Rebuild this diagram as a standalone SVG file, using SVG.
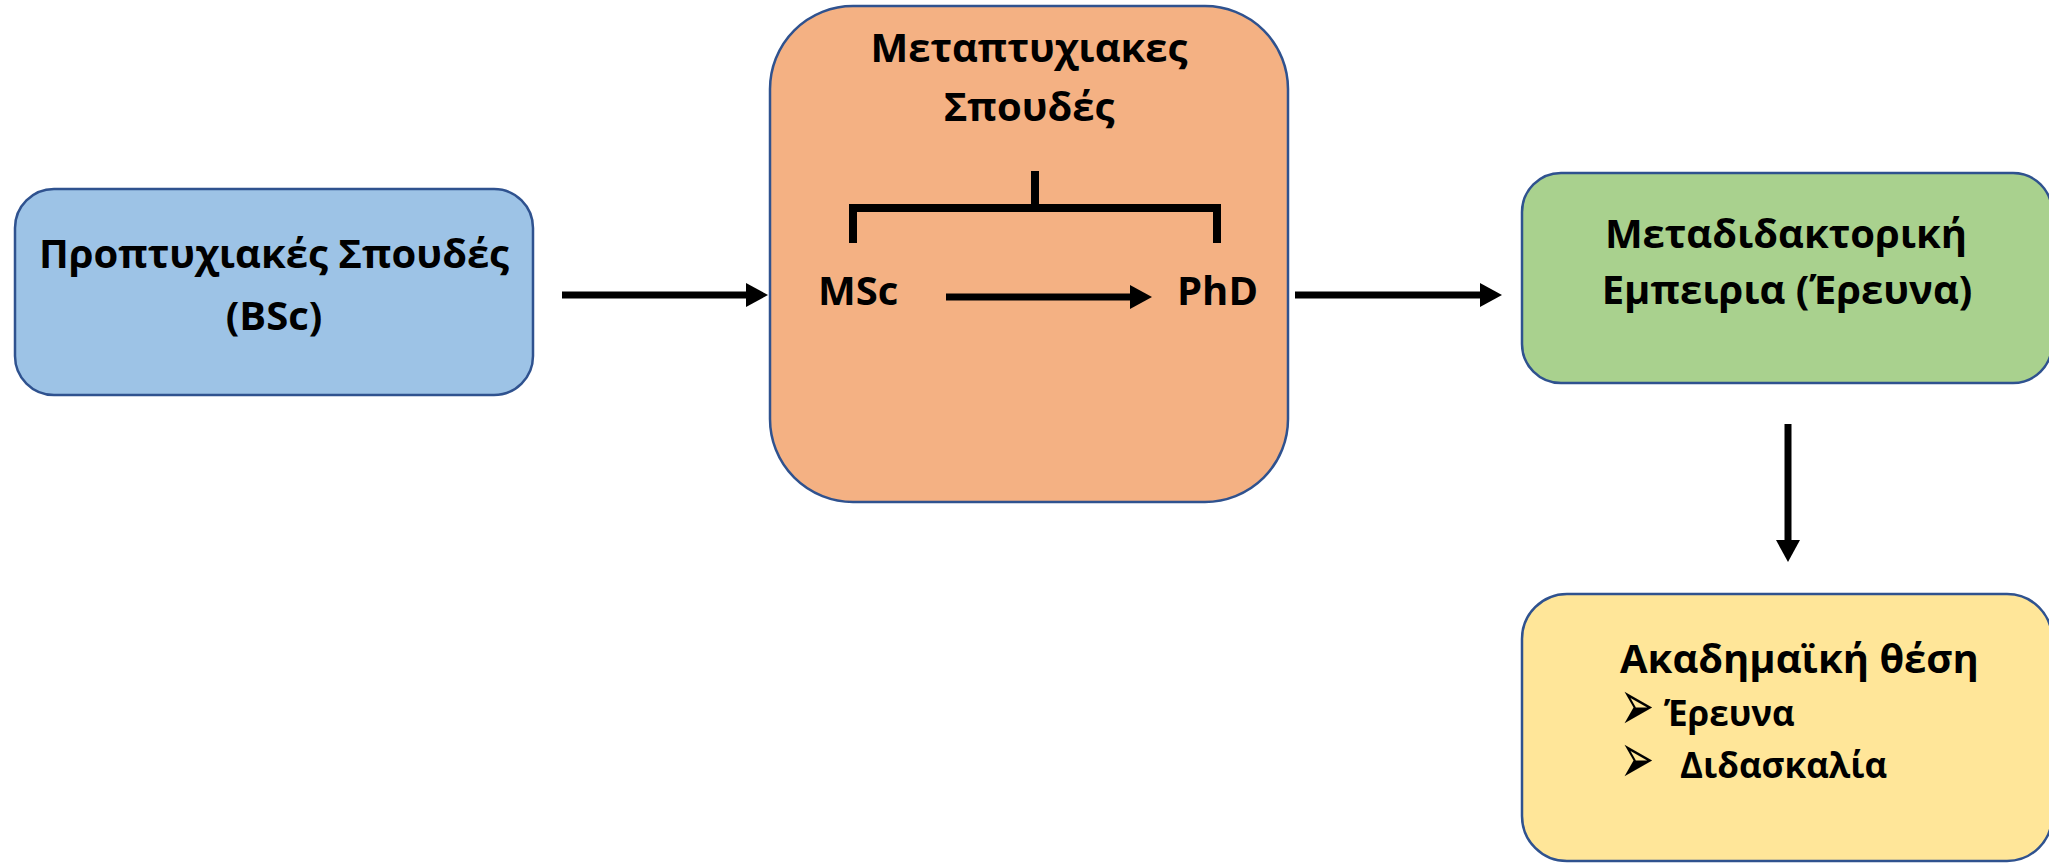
<svg xmlns="http://www.w3.org/2000/svg" width="2049" height="863" viewBox="0 0 2049 863">
  <style>
    .box { stroke: #2F528F; stroke-width: 2.5; }
    .t { font-family: "Open Sans", "Noto Sans", "DejaVu Sans", sans-serif; font-weight: 700; fill: #000; }
    .big { font-size: 40px; }
    .sub { font-size: 35px; }
    .blt { font-family: "DejaVu Sans", sans-serif; font-size: 48px; fill: #000; }
    .conn { stroke: #000; stroke-width: 7; fill: none; }
  </style>
  <defs>
    <marker id="ah" markerUnits="userSpaceOnUse" viewBox="0 0 22 24" markerWidth="22" markerHeight="24" refX="1" refY="12" orient="auto">
      <path d="M0,0 L22,12 L0,24 Z" fill="#000"/>
    </marker>
  </defs>
  <rect width="2049" height="863" fill="#ffffff"/>

  <g id="node-bsc">
    <rect class="box" x="15" y="189" width="518" height="206" rx="39" fill="#9DC3E6"/>
    <text class="t big" x="274" y="268" text-anchor="middle">Προπτυχιακές Σπουδές</text>
    <text class="t big" x="274" y="330" text-anchor="middle">(BSc)</text>
  </g>

  <g id="node-postgrad">
    <rect class="box" x="770" y="6" width="518" height="496" rx="83" fill="#F4B183"/>
    <text class="t big" x="1029" y="62" text-anchor="middle">Μεταπτυχιακες</text>
    <text class="t big" x="1029" y="121" text-anchor="middle">Σπουδές</text>
    <path d="M853,243 V208 H1217 V243 M1035,171 V208" stroke="#000" stroke-width="8" fill="none" stroke-linejoin="miter"/>
    <text class="t big" x="818" y="305">MSc</text>
    <text class="t big" x="1177" y="305">PhD</text>
  </g>

  <g id="node-postdoc">
    <rect class="box" x="1522" y="173" width="530" height="210" rx="39" fill="#A9D18E"/>
    <text class="t big" x="1786" y="248" text-anchor="middle">Μεταδιδακτορική</text>
    <text class="t big" x="1787" y="304" text-anchor="middle">Εμπειρια (Έρευνα)</text>
  </g>

  <g id="node-academic">
    <rect class="box" x="1522" y="594" width="530" height="267" rx="45" fill="#FFE699"/>
    <text class="t big" x="1620" y="673">Ακαδημαϊκή θέση</text>
    <text class="blt" transform="translate(1620,730) scale(0.85,1.5)">➢</text>
    <text class="t sub" x="1664" y="726">Έρευνα</text>
    <text class="blt" transform="translate(1620,783) scale(0.85,1.5)">➢</text>
    <text class="t sub" x="1680" y="778">Διδασκαλία</text>
  </g>

  <g id="connectors">
    <line class="conn" x1="562" y1="295" x2="747" y2="295" marker-end="url(#ah)"/>
    <line class="conn" x1="946" y1="297" x2="1131" y2="297" marker-end="url(#ah)"/>
    <line class="conn" x1="1295" y1="295" x2="1481" y2="295" marker-end="url(#ah)"/>
    <line class="conn" x1="1788" y1="424" x2="1788" y2="541" marker-end="url(#ah)"/>
  </g>
</svg>
